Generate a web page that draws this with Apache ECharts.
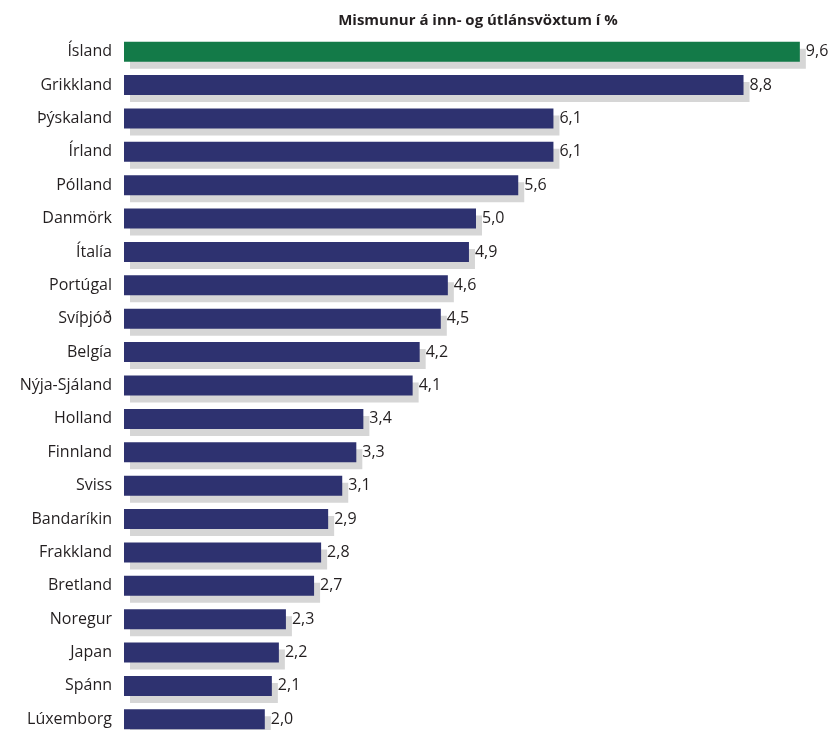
<!DOCTYPE html>
<html>
<head>
<meta charset="utf-8">
<script src="https://cdn.jsdelivr.net/npm/echarts@6/dist/echarts.min.js"></script>
<style>
html,body{margin:0;padding:0;background:#fff;}
#chart{width:836px;height:730px;}
</style>
</head>
<body>
<div id="chart"></div>
<script>
var titleText = 'Mismunur á inn- og útlánsvöxtum í %';
var categories = ['Ísland','Grikkland','Þýskaland','Írland','Pólland','Danmörk','Ítalía','Portúgal','Svíþjóð','Belgía','Nýja-Sjáland','Holland','Finnland','Sviss','Bandaríkin','Frakkland','Bretland','Noregur','Japan','Spánn','Lúxemborg'];
var values = [9.6,8.8,6.1,6.1,5.6,5.0,4.9,4.6,4.5,4.2,4.1,3.4,3.3,3.1,2.9,2.8,2.7,2.3,2.2,2.1,2.0];
var highlight = 'Ísland';

var chart = echarts.init(document.getElementById('chart'), null, {renderer:'canvas'});
var fontFam = '"Open Sans", "Noto Sans", sans-serif';
var data = values.map(function(v,i){
  var item = {value:v};
  if (categories[i] === highlight) item.itemStyle = {color:'#137a48'};
  return item;
});
chart.setOption({
  animation:false,
  title:{text:titleText, left:473, top:8, textAlign:'center',
    textStyle:{fontFamily:fontFam, fontSize:15, fontWeight:'bold', color:'#231f20'}},
  grid:{left:124, top:35, width:704, height:701, containLabel:false, outerBoundsMode:'none'},
  xAxis:{type:'value', min:0, max:10, show:false},
  yAxis:{type:'category', data:categories, inverse:true,
    axisLine:{show:false}, axisTick:{show:false}, splitLine:{show:false},
    axisLabel:{margin:12, fontFamily:fontFam, fontSize:16, color:'#231f20'}},
  series:[{
    type:'bar', data:data, barWidth:20,
    itemStyle:{color:'#2e3270', shadowColor:'#d6d6d6', shadowOffsetX:6, shadowOffsetY:7, shadowBlur:0},
    emphasis:{disabled:true},
    label:{show:true, position:'right', distance:6, fontFamily:fontFam, fontSize:16, color:'#231f20',
      formatter:function(p){return p.value.toFixed(1).replace('.',',');}}
  }]
});
</script>
</body>
</html>
